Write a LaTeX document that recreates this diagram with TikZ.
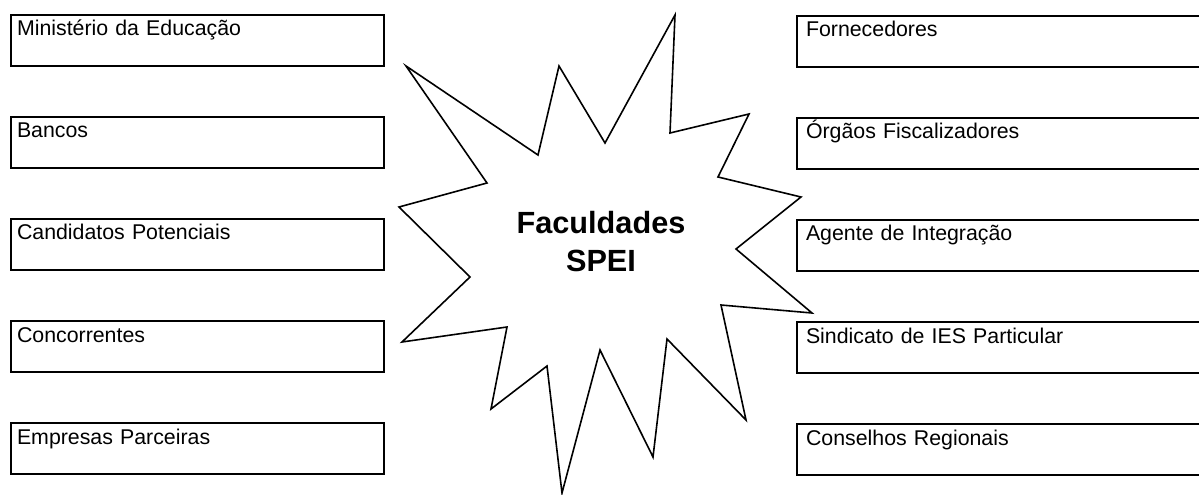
\documentclass[tikz,border=0pt]{standalone}
\usepackage{fontspec}
\setmainfont{Liberation Sans}
\usepackage{tikz}
\usetikzlibrary{positioning}
\tikzstyle{party} = [rectangle, draw, line width=0.8pt, text width=270.75pt, align=left, inner xsep=4.5pt, inner ysep=0pt, text height=15.75pt, text depth=22.5pt, font=\fontsize{16pt}{19pt}\selectfont]
\tikzstyle{partyright} = [party, inner xsep=6.75pt, text width=301.5pt]
\tikzstyle{star} = [draw, line width=1.2pt, line join=miter]

\begin{document}
\begin{tikzpicture}[x=0.75pt, y=-0.75pt, node distance=76.5pt]

    \useasboundingbox (0,0) rectangle (1199,495);
    \clip (0,0) rectangle (1199,495);

        % star
        \draw [star] (675,15) -- (670,133) -- (749,114) -- (718,177) -- (801,197)
            -- (736,249) -- (812,313) -- (721,305) -- (746,420) -- (667,339)
            -- (653,457) -- (600,350) -- (562,493) -- (547,366) -- (491,409)
            -- (507,327) -- (402,342) -- (470,277) -- (399,207) -- (487,183)
            -- (406,66) -- (538,155) -- (559,66) -- (605,143) -- cycle;
        \node (spei) [align=center, font=\fontsize{23pt}{28.5pt}\selectfont\bfseries] at (601,242) {Faculdades\\SPEI};

        % left boxes
        \node (ministerio) [party] at (197.5,40.5) {Ministério da Educação};
        \node (bancos) [party, below of=ministerio] {Bancos};
        \node (candidatos) [party, below of=bancos] {Candidatos Potenciais};
        \node (concorrentes) [party, below of=candidatos] {Concorrentes};
        \node (empresas) [party, below of=concorrentes] {Empresas Parceiras};

        % right boxes
        \node (fornecedores) [partyright] at (1007,41.5) {Fornecedores};
        \node (orgaos) [partyright, below of=fornecedores] {Órgãos Fiscalizadores};
        \node (agente) [partyright, below of=orgaos] {Agente de Integração};
        \node (sindicato) [partyright, below of=agente] {Sindicato de IES Particular};
        \node (conselhos) [partyright, below of=sindicato] {Conselhos Regionais};

    \end{tikzpicture}
\end{document}
